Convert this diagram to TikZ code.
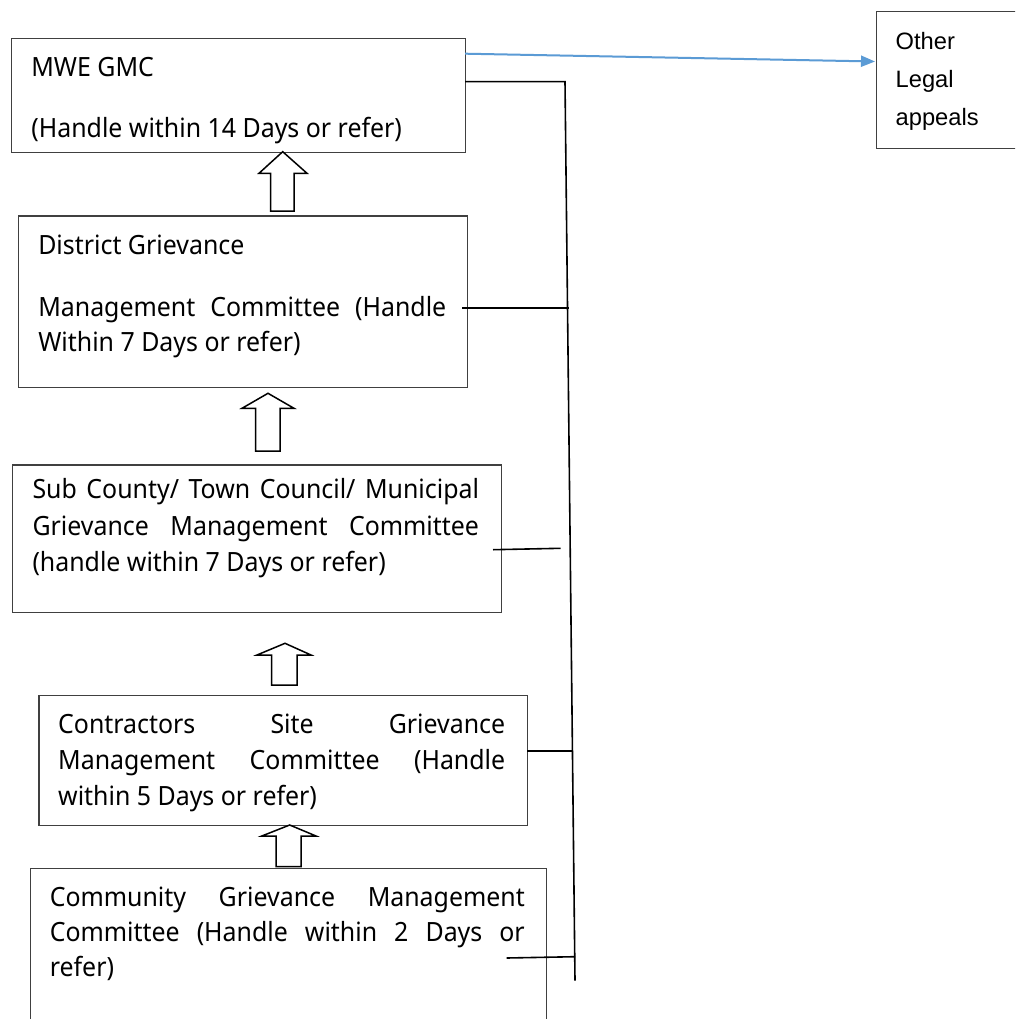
\documentclass[tikz,border=0pt]{standalone}
\usepackage{fontspec}
\setmainfont{Noto Sans}[FakeStretch=0.94]
\newfontfamily\arialfont{Liberation Sans}
\usetikzlibrary{arrows.meta}
\definecolor{officeblue}{HTML}{5B9BD5}
\definecolor{boxgray}{HTML}{404040}
\tikzset{
  box/.style={draw=boxgray, line width=1.2pt, fill=none},
  txt/.style={inner sep=0pt, outer sep=0pt, anchor=base west, font=\fontsize{26.5}{36}\selectfont, text=black},
  othertxt/.style={inner sep=0pt, outer sep=0pt, anchor=base west, font=\arialfont\fontsize{23.7}{38.3}\selectfont, text=black},
  conn/.style={draw=black, line width=1.6pt},
  blockarrow/.style={draw=black, line width=1.5pt, fill=white, line join=miter},
  bluearrow/.style={draw=officeblue, line width=2pt, -{Triangle[length=14pt,width=11pt]}}
}
\newcommand{\jline}[2]{\makebox[#1][s]{#2}}
\begin{document}
\begin{tikzpicture}[x=1pt, y=-1pt]
\clip (0,0) rectangle (1015,1019);
\useasboundingbox (0,0) rectangle (1015,1019);
\fill[white] (0,0) rectangle (1015,1019);

% boxes
\node[box, minimum width=454.5pt, minimum height=114pt, anchor=north west, inner sep=0pt] (b1) at (10.7,37.7) {};
\node[box, minimum width=449.4pt, minimum height=171.4pt, anchor=north west, inner sep=0pt] (b2) at (17.6,215.3) {};
\node[box, minimum width=489.5pt, minimum height=147.7pt, anchor=north west, inner sep=0pt] (b3) at (11.5,464.3) {};
\node[box, minimum width=488.7pt, minimum height=130pt, anchor=north west, inner sep=0pt] (b4) at (38.3,695) {};
\node[box, minimum width=516.1pt, minimum height=170pt, anchor=north west, inner sep=0pt] (b5) at (29.9,867.7) {};
\node[box, minimum width=160pt, minimum height=137pt, anchor=north west, inner sep=0pt] (b6) at (876,11) {};

% texts
\node[txt] (t1) at (31.4,77) {\parbox[t]{440pt}{\baselineskip=61pt\lineskiplimit=-100pt
MWE GMC\\
(Handle within 14 Days or refer)}};
\node[txt] (t2) at (38.3,254) {\parbox[t]{408pt}{\baselineskip=35pt\lineskiplimit=-100pt
District Grievance\\[27.7pt]
\jline{408pt}{Management Committee (Handle}\\
Within 7 Days or refer)}};
\node[txt] (t3) at (32.5,498.3) {\parbox[t]{446.5pt}{\baselineskip=36.7pt\lineskiplimit=-100pt
\jline{446.5pt}{Sub County/ Town Council/ Municipal}\\
\jline{446.5pt}{Grievance Management Committee}\\
(handle within 7 Days or refer)}};
\node[txt] (t4) at (58.2,733) {\parbox[t]{447pt}{\baselineskip=36pt\lineskiplimit=-100pt
\jline{447pt}{Contractors Site Grievance}\\
\jline{447pt}{Management Committee (Handle}\\
within 5 Days or refer)}};
\node[txt] (t5) at (49.8,906.7) {\parbox[t]{475pt}{\baselineskip=35pt\lineskiplimit=-100pt
\jline{475pt}{Community Grievance Management}\\
\jline{475pt}{Committee (Handle within 2 Days or}\\
refer)}};
\node[othertxt] (t6) at (895.7,49.3) {\parbox[t]{110pt}{\baselineskip=38.3pt\lineskiplimit=-100pt
Other\\
Legal\\
appeals}};

% block arrows (upward)
\draw[blockarrow] (282.7,151.7) -- (307,173.3) -- (294,173.3) -- (294,211) -- (270.7,211) -- (270.7,173.3) -- (259,173.3) -- cycle;
\draw[blockarrow] (268,393.3) -- (294,408.3) -- (280,408.3) -- (280,451) -- (255.6,451) -- (255.6,408.3) -- (242,408.3) -- cycle;
\draw[blockarrow] (285,643.3) -- (311,655) -- (297,655) -- (297,685) -- (271.7,685) -- (271.7,655) -- (257,655) -- cycle;
\draw[blockarrow] (289.7,825) -- (316,836) -- (301,836) -- (301,866.7) -- (276,866.7) -- (276,836) -- (261.8,836) -- cycle;

% connector coordinates
\coordinate (vtop) at (565,81.7);
\coordinate (vbot) at (575,980.7);
\coordinate (c1s) at (465.2,81.7);
\coordinate (c2s) at (462.3,307.7);
\coordinate (c2e) at (569.4,307.7);
\coordinate (c3s) at (493,549.7);
\coordinate (c3e) at (560.7,548.3);
\coordinate (c4s) at (527,751);
\coordinate (c4e) at (573.4,751);
\coordinate (c5s) at (506.7,958);
\coordinate (c5e) at (575,956.7);
\coordinate (bls) at (465.2,53.7);
\coordinate (ble) at (875,61.5);

\draw[conn] (c1s) -- (vtop) -- (vbot);
\draw[conn] (c2s) -- (c2e);
\draw[conn] (c3s) -- (c3e);
\draw[conn] (c4s) -- (c4e);
\draw[conn] (c5s) -- (c5e);

\draw[bluearrow] (bls) -- (ble);
\end{tikzpicture}
\end{document}
